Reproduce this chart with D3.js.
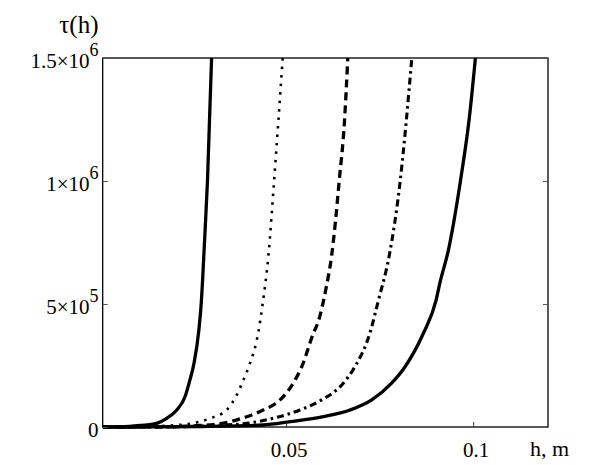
<!DOCTYPE html>
<html>
<head>
<meta charset="utf-8">
<script src="https://cdn.jsdelivr.net/npm/d3@7"></script>
<style>
  html, body { margin: 0; padding: 0; background: #fff; }
  svg { display: block; }
  text { font-family: "Liberation Serif", "Times New Roman", serif; fill: #000; }
</style>
</head>
<body>
<svg id="chart" width="612" height="465"></svg>
<script>
// ---- data ----
const h1   = [0.001, 0.006, 0.0110, 0.0154, 0.0181, 0.0208, 0.0230, 0.0243, 0.0254, 0.0267, 0.0273, 0.0282, 0.0290, 0.0301];
const tau1 = [0, 500, 6.1e3, 1.5e4, 3.54e4, 6.9e4, 1.23e5, 1.91e5, 2.59e5, 3.94e5, 4.96e5, 7.5e5, 1.0e6, 1.5e6];

const h2   = [0.001, 0.010, 0.0190, 0.0251, 0.0297, 0.0341, 0.0364, 0.0386, 0.0402, 0.0426, 0.0437, 0.0453, 0.0468, 0.0491];
const tau2 = [0, 300, 6.1e3, 1.5e4, 3.54e4, 6.9e4, 1.18e5, 1.91e5, 2.52e5, 3.86e5, 4.96e5, 6.99e5, 1.0e6, 1.5e6];

const h3   = [0.001, 0.015, 0.0270, 0.0350, 0.0395, 0.0439, 0.0484, 0.0519, 0.0542, 0.0573, 0.0586, 0.0607, 0.0622, 0.0632, 0.0642, 0.0656, 0.0665];
const tau3 = [0, 300, 6.1e3, 2.15e4, 4.19e4, 6.9e4, 1.1e5, 1.78e5, 2.45e5, 3.81e5, 4.28e5, 5.65e5, 6.99e5, 8.35e5, 1.0e6, 1.24e6, 1.5e6];

const h4   = [0.001, 0.018, 0.0310, 0.0395, 0.0466, 0.0537, 0.0595, 0.0653, 0.0684, 0.0724, 0.0747, 0.0776, 0.0805, 0.0821, 0.0836];
const tau4 = [0, 300, 6.1e3, 1.5e4, 3.54e4, 6.9e4, 1.1e5, 1.78e5, 2.45e5, 3.81e5, 5.16e5, 6.99e5, 1.0e6, 1.24e6, 1.5e6];

const h5   = [0.001, 0.015, 0.0270, 0.0438, 0.0511, 0.0600, 0.0671, 0.0729, 0.0782, 0.0818, 0.0867, 0.0901, 0.0911, 0.0934, 0.0966, 0.0990, 0.1006];
const tau5 = [0, 200, 2.0e3, 8.1e3, 2.15e4, 4.19e4, 6.9e4, 1.1e5, 1.78e5, 2.45e5, 3.81e5, 5.16e5, 5.85e5, 7.2e5, 1.0e6, 1.26e6, 1.5e6];

const xTicks = [0.05, 0.1];
const xTickLabels = ["0.05", "0.1"];
const yTicks = [0, 5e5, 1e6, 1.5e6];
const yTickMant = ["0", "5\u00D710", "1\u00D710", "1.5\u00D710"];
const yTickExp  = ["", "5", "6", "6"];

const xDomain = [0.001, 0.12];
const yDomain = [0, 1.5e6];

// ---- layout ----
const svg = d3.select("#chart");
const L = 102.7, R = 548, T = 58, B = 427;

const x = d3.scaleLinear().domain(xDomain).range([L, R]);
const y = d3.scaleLinear().domain(yDomain).range([B, T]);

svg.append("defs").append("clipPath").attr("id", "clip")
  .append("rect").attr("x", L).attr("y", T).attr("width", R - L).attr("height", B - T + 4);

const series = [
  { h: h1, t: tau1, dash: null, w: 3.3 },
  { h: h2, t: tau2, dash: "2.5,6", w: 2.6 },
  { h: h3, t: tau3, dash: "8,5", w: 3.3 },
  { h: h4, t: tau4, dash: "7,4,2.5,4", w: 3.1 },
  { h: h5, t: tau5, dash: null, w: 3.3 }
];

const line = d3.line()
  .x(d => x(d[0]))
  .y(d => y(d[1]))
  .curve(d3.curveMonotoneX);

const g = svg.append("g").attr("clip-path", "url(#clip)");
series.forEach(s => {
  const pts = s.h.map((hv, i) => [hv, s.t[i]]);
  g.append("path")
    .attr("d", line(pts))
    .attr("fill", "none")
    .attr("stroke", "#000")
    .attr("stroke-width", s.w)
    .attr("stroke-dasharray", s.dash);
});

// frame
svg.append("rect")
  .attr("x", L).attr("y", T).attr("width", R - L).attr("height", B - T)
  .attr("fill", "none").attr("stroke", "#000").attr("stroke-width", 1.3);

// axes with inward ticks
const axB = svg.append("g").attr("transform", `translate(0,${B})`)
  .call(d3.axisBottom(x).tickValues(xTicks).tickSizeInner(-5).tickSizeOuter(0).tickFormat(""));
axB.select(".domain").remove();
axB.selectAll("line").attr("stroke", "#333");

const axL = svg.append("g").attr("transform", `translate(${L},0)`)
  .call(d3.axisLeft(y).tickValues(yTicks).tickSizeInner(-5).tickSizeOuter(0).tickFormat(""));
axL.select(".domain").remove();
axL.selectAll("line").attr("stroke", "#555");

const axR = svg.append("g").attr("transform", `translate(${R},0)`)
  .call(d3.axisRight(y).tickValues(yTicks).tickSizeInner(-5).tickSizeOuter(0).tickFormat(""));
axR.select(".domain").remove();
axR.selectAll("line").attr("stroke", "#555");

// x tick labels
xTicks.forEach((v, i) => {
  svg.append("text")
    .attr("x", x(v) + 3).attr("y", 456.5)
    .attr("text-anchor", "middle")
    .attr("font-size", 21)
    .text(xTickLabels[i]);
});

// y tick labels
yTicks.forEach((v, i) => {
  const t = svg.append("text")
    .attr("x", 98.5).attr("y", y(v) + 10)
    .attr("text-anchor", "end")
    .attr("font-size", 21);
  t.append("tspan").text(yTickMant[i]);
  if (yTickExp[i]) {
    t.append("tspan").attr("dy", -12).attr("font-size", 18).text(yTickExp[i]);
  }
});

// axis titles
svg.append("text").attr("x", 530).attr("y", 456).attr("font-size", 22).text("h, m");
svg.append("text").attr("x", 98.5).attr("y", 33).attr("text-anchor", "end").attr("font-size", 25).text("\u03C4(h)");
</script>
</body>
</html>
